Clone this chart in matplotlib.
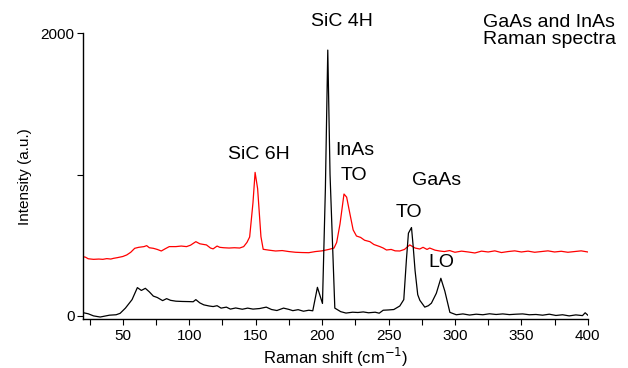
import matplotlib.pyplot as plt
from matplotlib.ticker import MultipleLocator

plt.rcParams['font.family'] = ['Liberation Sans', 'DejaVu Sans']

# Raman spectra
shift_black = [20, 24, 28, 33, 40, 45, 48, 52, 57, 61, 64, 67, 70, 73, 76, 80, 83, 86, 90, 95,
               100, 103, 105, 108, 111, 115, 118, 121, 124, 128, 131, 135, 140, 144, 148, 153,
               158, 162, 166, 171, 175, 178, 182, 186, 190, 193, 196.5, 200.3, 202.5, 204.3,
               206, 209.6, 214, 218, 223, 227, 231, 235, 240, 243, 246, 250, 254, 258.5, 261.5,
               263.5, 265, 267.3, 268.5, 270, 272, 273.6, 277.3, 280, 282.3, 286, 289.4, 292.4,
               296.2, 301, 306, 311, 316, 321, 326, 331, 336, 341, 346, 351, 356, 361, 366,
               371, 376, 381, 386, 391, 396, 398, 400]
int_black = [23, 15, 0, -8, 5, 8, 18, 55, 115, 200, 180, 195, 170, 140, 130, 108, 122, 110, 104, 102,
             101, 100, 115, 92, 78, 70, 66, 72, 55, 62, 48, 56, 47, 55, 48, 52,
             62, 45, 38, 55, 46, 37, 44, 33, 40, 36, 202, 88, 900, 1880,
             1000, 55, 30, 20, 26, 24, 28, 22, 26, 19, 40, 42, 45, 70, 115,
             400, 585, 625, 500, 320, 150, 110, 62, 72, 90, 160, 266, 175,
             25, 8, 14, 6, 12, 8, 15, 10, 14, 9, 12, 14, 8, 10, 5,
             12, 3, 8, 0, 7, 2, 22, 5]

shift_red = [20, 22, 24, 28, 32, 35, 38, 41, 43, 46, 50, 53, 56, 59, 62, 66, 68, 70, 73, 76,
             79, 82, 85, 90, 94, 98, 101, 105, 108, 111, 113, 116, 118, 121, 123, 126, 130,
             134, 138, 141, 143.5, 145.5, 148, 149.6, 151.5, 154, 155.7, 160, 165, 170, 175,
             180, 185, 190, 195, 200, 205, 209, 211, 213.5, 216.5, 218.5, 221, 223.4, 225.9,
             229, 232, 236, 239, 243.5, 246, 248.5, 252, 255, 258.5, 262, 266, 270, 273.5,
             276, 279, 281, 285, 288.5, 292, 296, 300, 305, 310, 315, 320, 325, 330, 335,
             340, 345, 350, 355, 360, 365, 370, 375, 380, 385, 390, 395, 400]
int_red = [419, 415, 404, 400, 402, 400, 405, 402, 407, 412, 420, 431, 450, 478, 485, 490, 497, 482, 478, 470,
           459, 475, 490, 490, 494, 490, 500, 525, 510, 505, 502, 480, 474, 494, 485, 482, 480,
           482, 480, 490, 520, 558, 800, 1015, 900, 560, 471, 465, 459, 462, 455,
           450, 448, 447, 455, 460, 470, 480, 520, 650, 862, 840, 720, 608, 565,
           555, 535, 525, 505, 490, 480, 466, 470, 460, 459, 470, 502, 480, 473,
           485, 470, 480, 465, 459, 455, 462, 450, 458, 452, 445, 458, 452, 460, 448,
           455, 460, 452, 458, 450, 455, 460, 452, 457, 450, 455, 460, 452]

peak_labels = ['SiC 4H', 'SiC 6H', 'InAs', 'TO', 'GaAs', 'TO', 'LO']
label_x = [215.3, 152.4, 224.7, 223.9, 286.4, 265.3, 289.8]
label_y = [2080, 1145, 1173, 996, 961, 728, 375]

fig = plt.figure(figsize=(6.28, 3.68), dpi=100)
ax = fig.add_axes([0.132, 0.132, 0.804, 0.778])

ax.plot(shift_red, int_red, color='#ff0000', lw=0.9)
ax.plot(shift_black, int_black, color='black', lw=0.9)

for txt, x, y in zip(peak_labels, label_x, label_y):
    ax.text(x, y, txt, ha='center', va='center', fontsize=14, clip_on=False)

fig.text(0.769, 0.962, 'GaAs and InAs\nRaman spectra', ha='left', va='top',
         fontsize=14, linespacing=1.0)

ax.set_xlim(20, 400)
ax.set_ylim(-25, 2000)
ax.xaxis.set_major_locator(MultipleLocator(50))
ax.xaxis.set_minor_locator(MultipleLocator(25))
ax.yaxis.set_major_locator(MultipleLocator(2000))
ax.yaxis.set_minor_locator(MultipleLocator(1000))
ax.tick_params(which='both', direction='out', width=0.8, length=4)
ax.tick_params(axis='x', labelsize=11, pad=3)
ax.tick_params(axis='y', labelsize=11, pad=2)

for side in ['top', 'right']:
    ax.spines[side].set_visible(False)
ax.spines['left'].set_linewidth(1.0)
ax.spines['bottom'].set_linewidth(1.0)

ax.set_xlabel('Raman shift (cm$^{-1}$)', fontsize=12, labelpad=2)
ax.set_ylabel('Intensity (a.u.)', fontsize=11, labelpad=6)

fig.savefig('out.png', dpi=100)
